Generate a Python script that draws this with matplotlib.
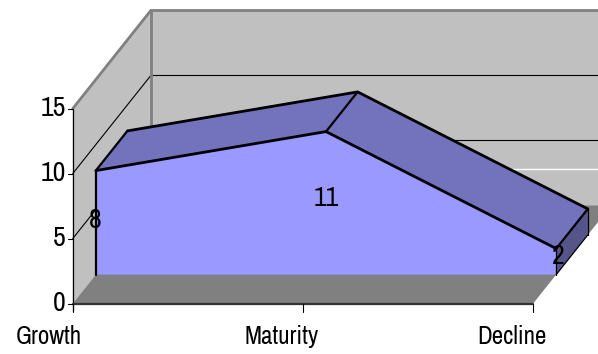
import matplotlib
matplotlib.use('Agg')
import matplotlib.pyplot as plt
from matplotlib.patches import Polygon

# Data
categories = ['Growth', 'Maturity', 'Decline']
values = [8, 11, 2]
y_ticks = [0, 5, 10, 15]

FONT = ['Archivo Narrow', 'Liberation Sans']

# Fake 3D projection, result is in image pixels
def proj(i, v, d=0.0):
    return (72.8 + 230.2 * i + 78 * d, 303.5 - 13 * v - 98 * d)

d_front = 0.295
d_back = 0.70
x_max = 2.0

fig = plt.figure(figsize=(5.98, 3.54), dpi=100)
ax = fig.add_axes([0, 0, 1, 1])
ax.set_xlim(0, 598)
ax.set_ylim(354, 0)
ax.axis('off')

def poly(pts, color, z):
    ax.add_patch(Polygon(pts, closed=True, facecolor=color, edgecolor='none', zorder=z))

def line(pts, color='black', lw=1.0, z=3):
    ax.plot([p[0] for p in pts], [p[1] for p in pts], color=color, lw=lw, zorder=z,
            solid_capstyle='round', solid_joinstyle='round')

# Walls and floor
poly([proj(0, 0), proj(0, 15), proj(0, 15, 1), proj(0, 0, 1)], '#c0c0c0', 1)
poly([proj(0, 0, 1), proj(0, 15, 1), proj(x_max, 15, 1), proj(x_max, 0, 1)], '#c0c0c0', 1)
poly([proj(0, 0), proj(x_max, 0), proj(x_max, 0, 1), proj(0, 0, 1)], '#808080', 2)

# Gridlines
for v in y_ticks[1:-1]:
    line([proj(0, v), proj(0, v, 1), proj(x_max, v, 1)], lw=0.8)
ax.plot([513, 598], [168.5, 168.5], color='white', lw=1.0, zorder=3)

# Wall edges
line([proj(0, 15), proj(0, 15, 1), proj(x_max, 15, 1)], color='#808080', lw=2.0)
line([proj(0, 15, 1), proj(0, 0, 1)], color='#808080', lw=2.0)

# Axes
line([proj(0, 15), (72.8, 311)], lw=0.9)
line([proj(0, 0), proj(x_max, 0)], color='#333333', lw=1.6)
for v in y_ticks:
    x, y = proj(0, v)
    line([(x - 5, y), (x, y)], lw=0.8)
    ax.text(66, y, str(v), ha='right', va='center', fontsize=20, family=FONT)
for i in range(len(categories)):
    x, y = proj(i, 0)
    line([(x, y), (x, y + 8)], lw=0.8)

# Area: top faces, side face, front face
front = [proj(i, v, d_front) for i, v in enumerate(values)]
back = [proj(i, v, d_back) for i, v in enumerate(values)]
n = len(values) - 1
for i in range(n):
    poly([front[i], front[i + 1], back[i + 1], back[i]], '#7373bd', 4)
poly([front[n], back[n], proj(n, 0, d_back), proj(n, 0, d_front)], '#55558a', 4)
poly([proj(0, 0, d_front)] + front + [proj(n, 0, d_front)], '#9999ff', 5)

line([proj(0, 0, d_front), front[0]], lw=1.6, z=6)
line(front, lw=2.0, z=6)
line(back, lw=2.0, z=6)
for i in range(n + 1):
    line([front[i], back[i]], lw=1.6, z=6)
line([front[n], proj(n, 0, d_front)], lw=0.9, z=6)
line([back[n], proj(n, 0, d_back)], lw=0.9, z=6)
line([proj(n, 0, d_back), proj(n, 0, d_front)], lw=0.9, z=6)

# Labels
label_pos = [(95, 220), (326, 198), (558, 257)]
for (x, y), v in zip(label_pos, values):
    ax.text(x, y, str(v), ha='center', va='center', fontsize=20, zorder=7, family=FONT)
cat_x = [49, 282, 512]
for x, c in zip(cat_x, categories):
    ax.text(x, 336, c, ha='center', va='center', fontsize=18, family=FONT)

fig.savefig('out.png', dpi=100)
